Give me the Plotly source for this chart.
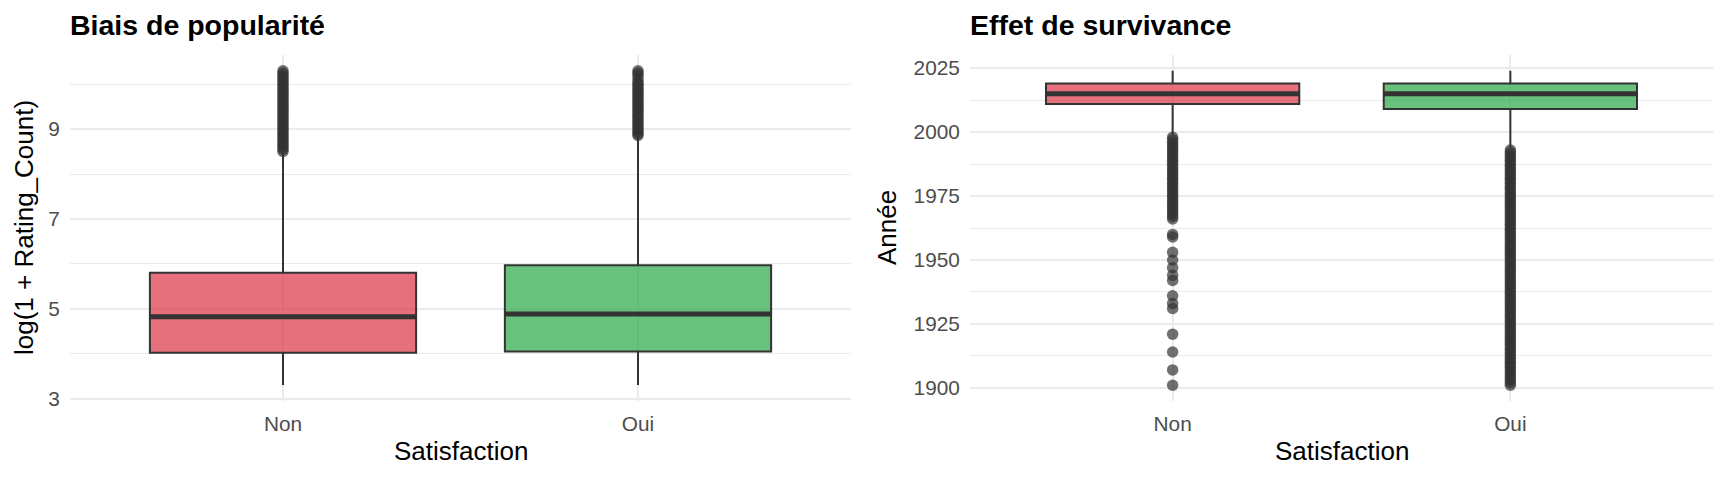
import plotly.graph_objects as go

# ---------------- data ----------------
categories = ["Non", "Oui"]

# Panel 1 : log(1 + Rating_Count)
pop_q1 = [4.02, 4.05]
pop_median = [4.82, 4.88]
pop_q3 = [5.80, 5.97]
pop_lower = [3.30, 3.30]
pop_upper = [8.47, 8.85]
pop_out_non = [8.50, 8.55, 8.60, 8.65, 8.70, 8.75, 8.80, 8.85, 8.90, 8.95,
               9.00, 9.05, 9.10, 9.15, 9.20, 9.25, 9.30, 9.35, 9.40, 9.45,
               9.50, 9.55, 9.60, 9.65, 9.70, 9.75, 9.80, 9.85, 9.90, 9.95,
               10.00, 10.05, 10.10, 10.15, 10.20, 10.25, 10.30]
pop_out_oui = [8.86, 8.90, 8.95, 9.00, 9.05, 9.10, 9.15, 9.20, 9.25, 9.30,
               9.35, 9.40, 9.45, 9.50, 9.55, 9.60, 9.65, 9.70, 9.75, 9.80,
               9.85, 9.90, 9.95, 10.00, 10.05, 10.12, 10.20, 10.25, 10.30]
pop_ticks = [3, 5, 7, 9]
pop_minor = [4, 6, 8, 10]

# Panel 2 : Année
yr_q1 = [2011, 2009]
yr_median = [2015, 2015]
yr_q3 = [2019, 2019]
yr_lower = [1999, 1994]
yr_upper = [2024, 2024]
yr_out_non = [1998, 1997, 1996, 1995, 1994, 1993, 1992, 1991, 1990, 1989,
              1988, 1987, 1986, 1985, 1984, 1983, 1982, 1981, 1980, 1979,
              1978, 1977, 1976, 1975, 1974, 1973, 1972, 1971, 1970, 1969,
              1968, 1967, 1966, 1960, 1959, 1953, 1950, 1947, 1944, 1942,
              1936, 1933, 1931, 1921, 1914, 1907, 1901]
yr_out_oui = [1993, 1992, 1991, 1990, 1989, 1988, 1987, 1986, 1985, 1984,
              1983, 1982, 1981, 1980, 1979, 1978, 1977, 1976, 1975, 1974,
              1973, 1972, 1971, 1970, 1969, 1968, 1967, 1966, 1965, 1964,
              1963, 1962, 1961, 1960, 1959, 1958, 1957, 1956, 1955, 1954,
              1953, 1952, 1951, 1950, 1949, 1948, 1947, 1946, 1945, 1944,
              1943, 1942, 1941, 1940, 1939, 1938, 1937, 1936, 1935, 1934,
              1933, 1932, 1931, 1930, 1929, 1928, 1927, 1926, 1925, 1924,
              1923, 1922, 1921, 1920, 1919, 1918, 1917, 1916, 1915, 1914,
              1913, 1912, 1911, 1910, 1909, 1908, 1907, 1906, 1905, 1904,
              1903, 1902, 1901]
yr_ticks = [1900, 1925, 1950, 1975, 2000, 2025]
yr_minor = [1912.5, 1937.5, 1962.5, 1987.5, 2012.5]

titles = ["Biais de popularité", "Effet de survivance"]
x_title = "Satisfaction"
y_titles = ["log(1 + Rating_Count)", "Année"]

# ---------------- style ----------------
fills = ["rgba(220,53,69,0.7)", "rgba(40,167,69,0.7)"]
edge = "#333333"
pt_color = "rgba(51,51,51,0.7)"
grid = "#EBEBEB"
FONT = "Liberation Sans"
W, H = 1728, 480


def py(px):
    """paper y fraction for a pixel row counted from the top."""
    return 1 - px / H


fig = go.Figure()


def add_panel(xa, ya, q1, med, q3, lo, hi, out_non, out_oui):
    for i, c in enumerate(categories):
        fig.add_trace(go.Box(
            x=[c], q1=[q1[i]], median=[med[i]], q3=[q3[i]],
            lowerfence=[lo[i]], upperfence=[hi[i]],
            fillcolor=fills[i], line=dict(color=edge, width=2),
            whiskerwidth=0, width=0.75, boxpoints=False,
            xaxis=xa, yaxis=ya, showlegend=False, hoverinfo="skip"))
        # thicker median line
        fig.add_trace(go.Box(
            x=[c], q1=[med[i]], median=[med[i]], q3=[med[i]],
            lowerfence=[med[i]], upperfence=[med[i]],
            fillcolor="rgba(0,0,0,0)", line=dict(color=edge, width=5),
            whiskerwidth=0, width=0.75, boxpoints=False,
            xaxis=xa, yaxis=ya, showlegend=False, hoverinfo="skip"))
    for c, vals in zip(categories, [out_non, out_oui]):
        fig.add_trace(go.Scatter(
            x=[c] * len(vals), y=vals, mode="markers",
            marker=dict(color=pt_color, size=11.5, line=dict(width=0)),
            xaxis=xa, yaxis=ya, showlegend=False, hoverinfo="skip"))


add_panel("x", "y", pop_q1, pop_median, pop_q3, pop_lower, pop_upper,
          pop_out_non, pop_out_oui)
add_panel("x2", "y2", yr_q1, yr_median, yr_q3, yr_lower, yr_upper,
          yr_out_non, yr_out_oui)

# panel pixel geometry
p1 = (70, 851)
p2 = (970, 1713)
ptop, pbot = 55, 401
ydom = [py(pbot), py(ptop)]

xcommon = dict(type="category", categoryorder="array", categoryarray=categories,
               range=[-0.6, 1.6], showgrid=True, gridcolor=grid, gridwidth=2,
               zeroline=False, showline=False, ticks="outside", ticklen=4,
               tickcolor="rgba(0,0,0,0)", automargin=False,
               tickfont=dict(family=FONT, size=20.8, color="#4D4D4D"))
ycommon = dict(showgrid=True, gridcolor=grid, gridwidth=2, zeroline=False,
               showline=False, ticks="outside", ticklen=5,
               tickcolor="rgba(0,0,0,0)", automargin=False,
               tickfont=dict(family=FONT, size=20.8, color="#4D4D4D"))

fig.update_layout(
    width=W, height=H, autosize=False,
    margin=dict(l=0, r=0, t=0, b=0, autoexpand=False),
    paper_bgcolor="white", plot_bgcolor="white",
    boxmode="overlay",
    xaxis=dict(domain=[p1[0] / W, p1[1] / W], anchor="y", **xcommon),
    yaxis=dict(domain=ydom, anchor="x", range=[2.945, 10.65],
               tickvals=pop_ticks,
               minor=dict(tickvals=pop_minor, showgrid=True, gridcolor=grid,
                          gridwidth=1.1, ticks=""),
               **ycommon),
    xaxis2=dict(domain=[p2[0] / W, p2[1] / W], anchor="y2", **xcommon),
    yaxis2=dict(domain=ydom, anchor="x2", range=[1894.85, 2030.15],
                tickvals=yr_ticks,
                minor=dict(tickvals=yr_minor, showgrid=True, gridcolor=grid,
                           gridwidth=1.1, ticks=""),
                **ycommon),
)

ann = []
for i, (pl, pr) in enumerate([p1, p2]):
    ann.append(dict(text="<b>" + titles[i] + "</b>", x=(pl - 2) / W,
                    y=py(25), xref="paper", yref="paper", xanchor="left",
                    yanchor="middle", showarrow=False,
                    font=dict(family=FONT, size=28.5, color="black")))
    ann.append(dict(text=x_title, x=(pl + pr) / 2 / W, y=py(451),
                    xref="paper", yref="paper", xanchor="center",
                    yanchor="middle", showarrow=False,
                    font=dict(family=FONT, size=26, color="black")))
ann.append(dict(text=y_titles[0], x=24 / W, y=py(228), xref="paper",
                yref="paper", xanchor="center", yanchor="middle",
                textangle=-90, showarrow=False,
                font=dict(family=FONT, size=26, color="black")))
ann.append(dict(text=y_titles[1], x=887 / W, y=py(228), xref="paper",
                yref="paper", xanchor="center", yanchor="middle",
                textangle=-90, showarrow=False,
                font=dict(family=FONT, size=26, color="black")))
fig.update_layout(annotations=ann)

css_js = (
    "var de=document.documentElement, b=document.body;"
    "de.style.margin='0'; de.style.padding='0'; de.style.overflow='hidden';"
    "b.style.margin='0'; b.style.padding='0'; b.style.overflow='hidden';"
)

fig.write_html("out.html", config={"displayModeBar": False},
               post_script=css_js)
